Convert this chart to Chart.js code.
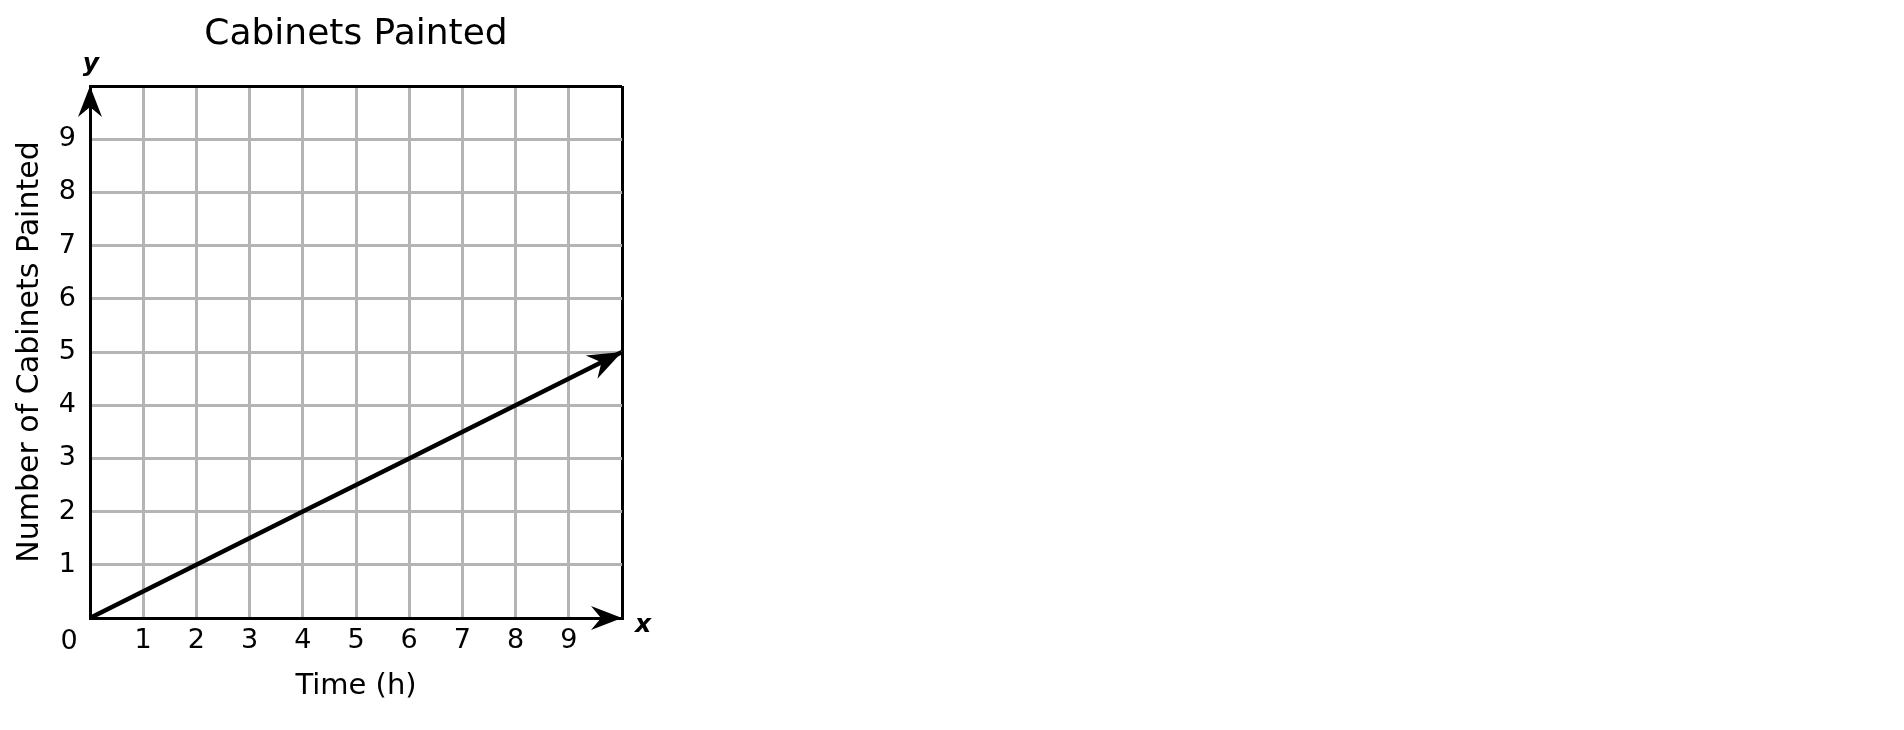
<!DOCTYPE html>
<html>
<head>
<meta charset="utf-8">
<title>Cabinets Painted</title>
<script src="https://cdn.jsdelivr.net/npm/chart.js@4.4.1/dist/chart.umd.min.js"></script>
<style>
  body { margin: 0; background: #ffffff; }
  #wrap { position: relative; width: 700px; height: 730px; }
</style>
</head>
<body>
<div id="wrap"><canvas id="cabinetsChart"></canvas></div>
<script>
const hours = [0, 2, 4, 6, 8, 10];
const cabinets = [0, 1, 2, 3, 4, 5];
const xTicks = [1, 2, 3, 4, 5, 6, 7, 8, 9];
const yTicks = [1, 2, 3, 4, 5, 6, 7, 8, 9];
const axisMax = 10;

const FONT = "'DejaVu Sans', Verdana, sans-serif";
const GRID = "#b4b4b4";

// notched arrow head, tip at (x, y), pointing along angle
function arrowHead(ctx, x, y, angle, len, half, notch) {
  ctx.save();
  ctx.translate(x, y);
  ctx.rotate(angle);
  ctx.beginPath();
  ctx.moveTo(0, 0);
  ctx.lineTo(-len, -half);
  ctx.lineTo(-notch, 0);
  ctx.lineTo(-len, half);
  ctx.closePath();
  ctx.fillStyle = "#000";
  ctx.fill();
  ctx.restore();
}

const extras = {
  id: "extras",
  afterDraw(chart) {
    const ctx = chart.ctx;
    const xs = chart.scales.x;
    const ys = chart.scales.y;
    const x0 = xs.getPixelForValue(0), y0 = ys.getPixelForValue(0);
    const xEnd = xs.getPixelForValue(axisMax), yEnd = ys.getPixelForValue(axisMax);

    // axis arrows
    arrowHead(ctx, xEnd, y0, 0, 31, 12, 21);
    arrowHead(ctx, x0, yEnd, -Math.PI / 2, 31, 12, 21);

    // arrow at the end of the line
    const n = hours.length - 1;
    const px = xs.getPixelForValue(hours[n]), py = ys.getPixelForValue(cabinets[n]);
    const qx = xs.getPixelForValue(hours[n - 1]), qy = ys.getPixelForValue(cabinets[n - 1]);
    arrowHead(ctx, px, py, Math.atan2(py - qy, px - qx), 34, 13, 23);

    ctx.save();
    ctx.fillStyle = "#000";
    ctx.textAlign = "center";
    ctx.textBaseline = "middle";
    ctx.font = "27px " + FONT;
    ctx.fillText("0", x0 - 21, y0 + 24);
    ctx.font = "italic bold 25px " + FONT;
    ctx.textBaseline = "alphabetic";
    ctx.fillText("x", xEnd + 21, y0 + 14);
    ctx.fillText("y", x0 + 1, yEnd - 15);
    ctx.restore();
  }
};

new Chart(document.getElementById("cabinetsChart").getContext("2d"), {
  type: "line",
  data: {
    datasets: [
      {
        data: hours.map((h, i) => ({ x: h, y: cabinets[i] })),
        borderColor: "#000",
        borderWidth: 4.5,
        pointRadius: 0,
        fill: false,
        tension: 0,
      },
    ],
  },
  options: {
    responsive: true,
    maintainAspectRatio: false,
    animation: false,
    layout: { padding: { left: 0, top: 0, right: 78, bottom: 0 } },
    plugins: {
      legend: { display: false },
      tooltip: { enabled: false },
      title: {
        display: true,
        text: "Cabinets Painted",
        color: "#000",
        fullSize: false,
        font: { family: FONT, size: 36, weight: "normal" },
        padding: { top: 13, bottom: 29.8 },
      },
    },
    scales: {
      x: {
        type: "linear",
        min: 0,
        max: axisMax,
        afterFit: (s) => { s.height = 112; },
        ticks: {
          stepSize: 1,
          autoSkip: false,
          maxRotation: 0,
          padding: 7,
          color: "#000",
          font: { family: FONT, size: 27 },
          callback: (v) => (xTicks.includes(v) ? v : ""),
        },
        grid: {
          drawTicks: false,
          lineWidth: 3,
          color: (c) => (c.tick && c.tick.value === axisMax ? "#000" : GRID),
        },
        border: { color: "#000", width: 3 },
        title: {
          display: true,
          text: "Time (h)",
          color: "#000",
          font: { family: FONT, size: 29 },
          padding: { top: 0, bottom: 26 },
        },
      },
      y: {
        type: "linear",
        min: 0,
        max: axisMax,
        afterFit: (s) => { s.width = 90; },
        ticks: {
          stepSize: 1,
          autoSkip: false,
          padding: 14,
          color: "#000",
          font: { family: FONT, size: 27 },
          callback: (v) => (yTicks.includes(v) ? v : ""),
        },
        grid: {
          drawTicks: false,
          lineWidth: 3,
          color: (c) => (c.tick && c.tick.value === axisMax ? "#000" : GRID),
        },
        border: { color: "#000", width: 3 },
        title: {
          display: true,
          text: "Number of Cabinets Painted",
          color: "#000",
          font: { family: FONT, size: 30 },
          padding: { top: 12, bottom: 0 },
        },
      },
    },
  },
  plugins: [extras],
});
</script>
</body>
</html>
